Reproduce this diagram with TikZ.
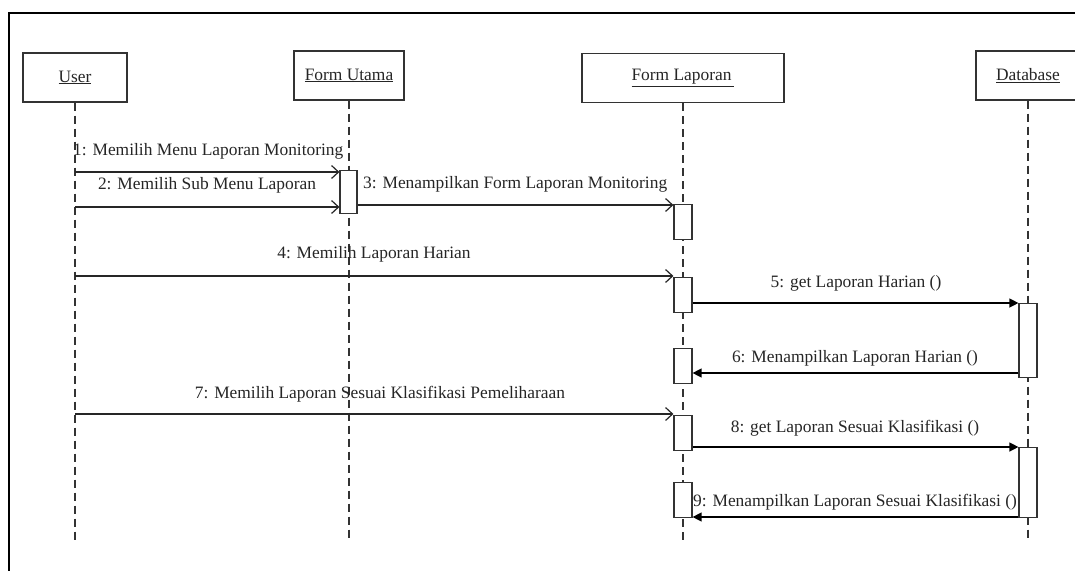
\documentclass[tikz,border=0pt]{standalone}
\usepackage{fontspec}
\setmainfont{Liberation Serif}
\usetikzlibrary{arrows.meta}
\begin{document}
\begin{tikzpicture}[x=1pt,y=-1pt,
  every node/.style={font=\fontsize{17.4}{20}\selectfont, text=black!85},
  header/.style={draw=black!80, line width=1.3pt, fill=white, inner sep=0pt, minimum height=49pt},
  act/.style={draw=black!80, line width=1.2pt, fill=white, inner sep=0pt, minimum width=18pt, anchor=north},
  lifeline/.style={draw=black!80, line width=1.3pt, dash pattern=on 8pt off 5pt},
  call/.style={draw=black!85, line width=1.3pt, -{Straight Barb[length=7pt,width=13pt,line width=1.2pt]}},
  sync/.style={draw=black, line width=1.3pt, -{Triangle[length=9pt,width=9pt]}},
  lbl/.style={anchor=base, inner sep=0pt},
  lblw/.style={anchor=base west, inner sep=0pt},
]
\useasboundingbox (0,0) rectangle (1075,570);
\fill[white] (0,0) rectangle (1075,570);

% outer frame
\draw[line width=2pt] (9,575) -- (9,13) -- (1080,13);

% objects
\node[header, minimum width=104pt] (user) at (75,77.5) {\underline{User}};
\node[header, minimum width=110pt] (fu) at (349,75.5) {\underline{Form Utama}};
\node[header, minimum width=202pt] (fl) at (683,78) {\underline{Form Laporan\,}};
\node[header, minimum width=104pt] (db) at (1028,75.5) {\underline{Database}};

% lifelines
\coordinate (bottom) at (0,540);
\draw[lifeline] (user.south) -- (user.south |- bottom);
\draw[lifeline] (fu.south) -- (fu.south |- bottom);
\draw[lifeline] (fl.south) -- (fl.south |- bottom);
\draw[lifeline] (db.south) -- (db.south |- bottom);

% activations
\node[act, minimum height=43pt, minimum width=17pt] (afu) at (348.5,170) {};
\node[act, minimum height=35pt] (fl1) at (683,204) {};
\node[act, minimum height=35pt] (fl2) at (683,277) {};
\node[act, minimum height=35pt] (fl3) at (683,348) {};
\node[act, minimum height=35pt] (fl4) at (683,415) {};
\node[act, minimum height=35pt] (fl5) at (683,482) {};
\node[act, minimum height=74pt] (db1) at (1028,303) {};
\node[act, minimum height=70pt] (db2) at (1028,447) {};

% message anchors on the User lifeline
\coordinate (m1) at (75,172);
\coordinate (m2) at (75,207);
\coordinate (m4) at (75,276);
\coordinate (m7) at (75,414);
\coordinate (m3) at (357,205);
\coordinate (m5) at (692,303);
\coordinate (m6) at (1019,373);
\coordinate (m8) at (692,447);
\coordinate (m9) at (1019,517);

% messages
\draw[call] (m1) -- (m1 -| afu.west);
\draw[call] (m2) -- (m2 -| afu.west);
\draw[call] (m3 -| afu.east) -- (m3 -| fl1.west);
\draw[call] (m4) -- (m4 -| fl2.west);
\draw[sync] (m5 -| fl2.east) -- (m5 -| db1.west);
\draw[sync] (m6 -| db1.west) -- (m6 -| fl3.east);
\draw[call] (m7) -- (m7 -| fl4.west);
\draw[sync] (m8 -| fl4.east) -- (m8 -| db2.west);
\draw[sync] (m9 -| db2.west) -- (m9 -| fl5.east);

% labels
\node[lblw] (t1) at (73,155) {1: Memilih Menu Laporan Monitoring};
\node[lbl]  (t2) at (207,189) {2: Memilih Sub Menu Laporan};
\node[lblw] (t3) at (363,188) {3: Menampilkan Form Laporan Monitoring};
\node[lbl]  (t4) at (374,258) {4: Memilih Laporan Harian};
\node[lbl]  (t5) at (856,287) {5: get Laporan Harian ()};
\node[lbl]  (t6) at (855,362) {6: Menampilkan Laporan Harian ()};
\node[lbl]  (t7) at (380,398) {7: Memilih Laporan Sesuai Klasifikasi Pemeliharaan};
\node[lbl]  (t8) at (855,432) {8: get Laporan Sesuai Klasifikasi ()};
\node[lblw] (t9) at (693,506) {9: Menampilkan Laporan Sesuai Klasifikasi ()};
\end{tikzpicture}
\end{document}
